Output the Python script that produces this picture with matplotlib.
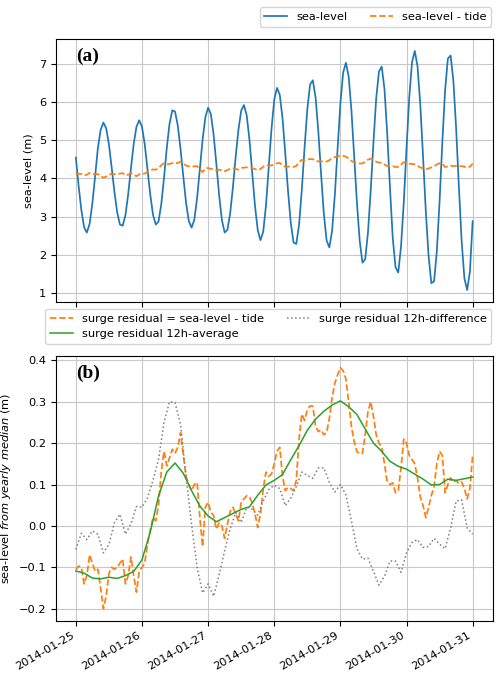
import numpy as np
import pandas as pd
import matplotlib
matplotlib.use('Agg')
import matplotlib.pyplot as plt
import matplotlib.dates as mdates

plt.rcParams['font.size'] = 8.2

# hourly series, 2014-01-25 00:00 .. 2014-01-31 00:00
times = pd.date_range('2014-01-25 00:00', '2014-01-31 00:00', freq='h')

sea_level = [
    4.55, 3.81, 3.17, 2.72, 2.58, 2.81, 3.35, 4.06, 4.80, 5.28,
    5.47, 5.32, 4.90, 4.29, 3.65, 3.11, 2.79, 2.76, 3.04, 3.59,
    4.27, 4.91, 5.36, 5.53, 5.36, 4.90, 4.25, 3.58, 3.05, 2.79,
    2.87, 3.32, 4.02, 4.80, 5.44, 5.79, 5.76, 5.39, 4.77, 4.05,
    3.36, 2.88, 2.71, 2.92, 3.48, 4.25, 5.02, 5.61, 5.86, 5.69,
    5.15, 4.38, 3.56, 2.91, 2.58, 2.65, 3.08, 3.77, 4.57, 5.28,
    5.78, 5.93, 5.66, 5.02, 4.16, 3.29, 2.65, 2.38, 2.60, 3.29,
    4.28, 5.30, 6.07, 6.38, 6.20, 5.58, 4.66, 3.67, 2.83, 2.32,
    2.28, 2.78, 3.70, 4.81, 5.82, 6.47, 6.58, 6.13, 5.23, 4.11,
    3.07, 2.37, 2.19, 2.63, 3.58, 4.80, 5.97, 6.78, 7.04, 6.68,
    5.80, 4.60, 3.37, 2.37, 1.79, 1.88, 2.57, 3.68, 4.95, 6.11,
    6.81, 6.94, 6.35, 5.17, 3.75, 2.44, 1.67, 1.53, 2.21, 3.37,
    4.80, 6.14, 7.06, 7.35, 6.94, 5.94, 4.57, 3.14, 1.97, 1.25,
    1.30, 2.09, 3.41, 4.96, 6.32, 7.15, 7.23, 6.57, 5.32, 3.79,
    2.36, 1.38, 1.07, 1.55, 2.88,
]

# surge residual = sea-level - tide, relative to the yearly median
surge = [
    -0.106, -0.097, -0.100, -0.140, -0.120, -0.070, -0.090, -0.110, -0.105, -0.150,
    -0.200, -0.170, -0.115, -0.100, -0.105, -0.100, -0.090, -0.080, -0.140, -0.120,
    -0.075, -0.120, -0.160, -0.110, -0.100, -0.090, -0.045, -0.010, 0.020, 0.012,
    0.050, 0.130, 0.180, 0.145, 0.165, 0.185, 0.175, 0.190, 0.225, 0.170,
    0.120, 0.100, 0.085, 0.100, 0.105, 0.020, -0.050, 0.045, 0.057, 0.033,
    0.025, -0.008, 0.008, 0.000, -0.030, 0.004, 0.035, 0.045, 0.030, 0.012,
    0.057, 0.065, 0.073, 0.070, 0.055, 0.030, -0.004, 0.030, 0.090, 0.130,
    0.120, 0.125, 0.150, 0.180, 0.190, 0.120, 0.085, 0.093, 0.090, 0.085,
    0.110, 0.210, 0.270, 0.255, 0.280, 0.290, 0.289, 0.240, 0.228, 0.232,
    0.220, 0.225, 0.260, 0.310, 0.345, 0.365, 0.382, 0.375, 0.355, 0.300,
    0.240, 0.204, 0.179, 0.175, 0.175, 0.220, 0.275, 0.300, 0.265, 0.220,
    0.200, 0.190, 0.150, 0.106, 0.100, 0.104, 0.080, 0.085, 0.140, 0.210,
    0.200, 0.170, 0.160, 0.150, 0.115, 0.070, 0.049, 0.020, 0.045, 0.073,
    0.095, 0.150, 0.180, 0.170, 0.080, 0.100, 0.116, 0.105, 0.110, 0.102,
    0.106, 0.090, 0.065, 0.090, 0.171,
]
yearly_median = 4.22

# 12h-average, read every 3 hours
avg_times = pd.date_range('2014-01-25 00:00', '2014-01-31 00:00', freq='3h')
surge_avg = [
    -0.109, -0.114, -0.126, -0.128, -0.124, -0.127, -0.120, -0.110, -0.082, -0.015,
    0.072, 0.130, 0.152, 0.127, 0.085, 0.048, 0.024, 0.010, 0.020, 0.030,
    0.040, 0.046, 0.074, 0.099, 0.110, 0.124, 0.160, 0.194, 0.231, 0.258,
    0.277, 0.292, 0.302, 0.288, 0.269, 0.234, 0.200, 0.180, 0.156, 0.144,
    0.137, 0.125, 0.113, 0.099, 0.100, 0.113, 0.110, 0.114, 0.118,
]

# 12h-difference, read every 2 hours
diff_times = pd.date_range('2014-01-25 00:00', '2014-01-31 00:00', freq='2h')
surge_diff = [
    -0.057, -0.018, -0.033, -0.012, -0.020, -0.065, -0.045, 0.008, 0.028, -0.020,
    0.005, 0.047, 0.045, 0.068, 0.110, 0.160, 0.250, 0.300, 0.298, 0.245,
    0.120, 0.003, -0.100, -0.162, -0.140, -0.170, -0.118, -0.060, -0.007, 0.032,
    0.008, 0.045, 0.040, 0.026, 0.060, 0.088, 0.098, 0.090, 0.049, 0.067,
    0.095, 0.130, 0.122, 0.115, 0.140, 0.140, 0.105, 0.082, 0.100, 0.075,
    0.012, -0.055, -0.080, -0.078, -0.110, -0.143, -0.122, -0.085, -0.085, -0.112,
    -0.065, -0.040, -0.033, -0.052, -0.050, -0.030, -0.044, -0.055, -0.005, 0.060,
    0.063, -0.005, -0.020,
]

fig = plt.figure(figsize=(5, 6.75), dpi=100)
ax1 = fig.add_axes([0.112, 0.5526, 0.873, 0.3896])
ax2 = fig.add_axes([0.112, 0.0804, 0.873, 0.3926], sharex=ax1)

lw = 1.25
l1, = ax1.plot(times, sea_level, color='#1f77b4', lw=lw, label='sea-level')
l2, = ax1.plot(times, np.array(surge) + yearly_median, color='#ff7f0e', ls='--', lw=lw,
               label='sea-level - tide')
ax1.set_ylabel('sea-level (m)')
ax1.grid(True, color='#c8c8c8', lw=0.8)
ax1.tick_params(labelbottom=False)
ax1.text(0.045, 0.968, '(a)', transform=ax1.transAxes, va='top', ha='left',
         family='Liberation Serif', weight='bold', fontsize=14)

m1, = ax2.plot(times, surge, color='#ff7f0e', ls='--', lw=lw,
               label='surge residual = sea-level - tide')
m2, = ax2.plot(avg_times, surge_avg, color='#2ca02c', lw=1.1,
               label='surge residual 12h-average')
m3, = ax2.plot(diff_times, surge_diff, color='#7f7f7f', ls=':', lw=1.1,
               label='surge residual 12h-difference')
ax2.set_ylabel(r'sea-level $\it{from\ yearly\ median}$ (m)')
ax2.grid(True, color='#c8c8c8', lw=0.8)
ax2.text(0.045, 0.966, '(b)', transform=ax2.transAxes, va='top', ha='left',
         family='Liberation Serif', weight='bold', fontsize=14)

ax2.xaxis.set_major_locator(mdates.DayLocator())
ax2.xaxis.set_major_formatter(mdates.DateFormatter('%Y-%m-%d'))
plt.setp(ax2.get_xticklabels(), rotation=30, ha='right')

fig.legend(handles=[l1, l2], loc='upper right', ncol=2,
           bbox_to_anchor=(0.982, 0.989), borderaxespad=0)
fig.legend(handles=[m1, m2, m3], loc='upper right', ncol=2,
           bbox_to_anchor=(0.982, 0.5422), borderaxespad=0)

fig.savefig('out.png', dpi=100)
